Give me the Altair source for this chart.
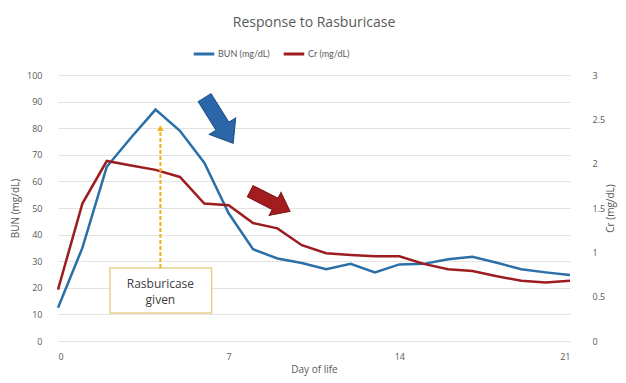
import altair as alt
import pandas as pd

days = list(range(22))
bun = [12.5, 35, 65.5, 76.5, 87, 79, 67, 48, 34.5, 31, 29.3, 27, 29, 25.8, 28.8, 29, 30.7, 31.7, 29.4, 27, 25.8, 24.8]
cr = [0.58, 1.55, 2.03, 1.98, 1.93, 1.85, 1.55, 1.53, 1.33, 1.27, 1.08, 0.99, 0.97, 0.955, 0.955, 0.87, 0.81, 0.79, 0.73, 0.68, 0.66, 0.68]
series_names = ["BUN (mg/dL)", "Cr (mg/dL)"]
series_colors = ["#2a6fa8", "#9c1c1f"]
x_ticks = [0, 7, 14, 21]
bun_ticks = list(range(0, 101, 10))
cr_ticks = [0, 0.5, 1, 1.5, 2, 2.5, 3]

# annotation positions, in (day, BUN) units
note_text = ["Rasburicase\ngiven"]
note_box_day = [2.13, 6.3]
note_box_bun = [10.5, 27.4]
note_text_pos = [4.2, 21.5]
note_arrow_day = 4.2
note_arrow_bun = [27.4, 80]
trend_arrow_day = [6.6, 8.7]
trend_arrow_bun = [82.9, 52.5]
trend_arrow_angle = [148, 117]
trend_arrow_size = [2900, 2000]
trend_arrow_fill = ["#2a66a8", "#a31d1f"]
trend_arrow_stroke = ["#1d4f86", "#7d1416"]

FONT = "Open Sans"
SMALL_FONT = "Lato"
GRAY = "#595959"

df = pd.DataFrame({
    "day": days * 2,
    "series": [series_names[0]] * len(days) + [series_names[1]] * len(days),
    "value": bun + cr,
})

x_enc = alt.X("day:Q", scale=alt.Scale(domain=[0, 21], nice=False, zero=False),
              axis=alt.Axis(values=x_ticks, title="Day of life", grid=False, ticks=False,
                            domain=False, labelPadding=11, titlePadding=3))
color_enc = alt.Color("series:N",
                      scale=alt.Scale(domain=series_names, range=series_colors),
                      legend=alt.Legend(title=None, orient="none", legendX=134, legendY=-33,
                                        direction="horizontal", symbolType="stroke",
                                        symbolSize=420, symbolStrokeWidth=3,
                                        labelFontSize=9, labelColor=GRAY, labelFont=SMALL_FONT,
                                        labelOffset=2, padding=0))

bun_line = alt.Chart(df).transform_filter(
    alt.datum.series == series_names[0]
).mark_line(strokeWidth=2.5).encode(
    x=x_enc,
    y=alt.Y("value:Q", scale=alt.Scale(domain=[0, 100], nice=False),
            axis=alt.Axis(values=bun_ticks, title="BUN (mg/dL)", grid=True,
                          gridColor="#e3e3e3", ticks=False, domain=False,
                          labelPadding=16, titlePadding=6)),
    color=color_enc,
)

cr_line = alt.Chart(df).transform_filter(
    alt.datum.series == series_names[1]
).mark_line(strokeWidth=2.5).encode(
    x=x_enc,
    y=alt.Y("value:Q", scale=alt.Scale(domain=[0, 3], nice=False),
            axis=alt.Axis(values=cr_ticks, format="~g", title="Cr (mg/dL)", orient="right",
                          grid=False, ticks=False, domain=False, labelPadding=22,
                          titlePadding=1, titleAngle=270, titleBaseline="top")),
    color=color_enc,
)

ann_y = alt.Scale(domain=[0, 100], nice=False)

box_df = pd.DataFrame({"x": [note_box_day[0]], "x2": [note_box_day[1]],
                       "y": [note_box_bun[0]], "y2": [note_box_bun[1]]})
box = alt.Chart(box_df).mark_rect(fill="white", stroke="#e6d28c", strokeWidth=1.5).encode(
    x=alt.X("x:Q", scale=alt.Scale(domain=[0, 21], nice=False)), x2="x2:Q",
    y=alt.Y("y:Q", scale=ann_y, axis=None), y2="y2:Q")

text_df = pd.DataFrame({"x": [note_text_pos[0]], "y": [note_text_pos[1]], "t": note_text})
text = alt.Chart(text_df).mark_text(font=FONT, fontSize=12, color="#404040",
                                    lineBreak="\n", lineHeight=16, baseline="middle").encode(
    x=alt.X("x:Q", scale=alt.Scale(domain=[0, 21], nice=False)),
    y=alt.Y("y:Q", scale=ann_y, axis=None), text="t:N")

rule_df = pd.DataFrame({"x": [note_arrow_day], "y": [note_arrow_bun[0]], "y2": [note_arrow_bun[1]]})
rule = alt.Chart(rule_df).mark_rule(color="#f2b01e", strokeWidth=2, strokeDash=[4, 2]).encode(
    x=alt.X("x:Q", scale=alt.Scale(domain=[0, 21], nice=False)),
    y=alt.Y("y:Q", scale=ann_y, axis=None), y2="y2:Q")

head_df = pd.DataFrame({"x": [note_arrow_day], "y": [note_arrow_bun[1]]})
head = alt.Chart(head_df).mark_point(shape="triangle-up", filled=True, size=45,
                                     color="#f2b01e", opacity=1).encode(
    x=alt.X("x:Q", scale=alt.Scale(domain=[0, 21], nice=False)),
    y=alt.Y("y:Q", scale=ann_y, axis=None))

arrow_path = "M -0.28 1 L 0.28 1 L 0.28 -0.25 L 0.58 -0.25 L 0 -1 L -0.58 -0.25 L -0.28 -0.25 Z"
arr_df = pd.DataFrame({"x": trend_arrow_day, "y": trend_arrow_bun, "a": trend_arrow_angle,
                       "s": trend_arrow_size, "f": trend_arrow_fill, "k": trend_arrow_stroke})
arrows = alt.Chart(arr_df).mark_point(shape=arrow_path, filled=True, opacity=1,
                                      strokeWidth=1).encode(
    x=alt.X("x:Q", scale=alt.Scale(domain=[0, 21], nice=False)),
    y=alt.Y("y:Q", scale=ann_y, axis=None),
    angle=alt.Angle("a:Q", scale=None),
    size=alt.Size("s:Q", scale=None),
    fill=alt.Fill("f:N", scale=None),
    stroke=alt.Stroke("k:N", scale=None),
)

chart = alt.layer(bun_line, cr_line, box, text, rule, head, arrows).resolve_scale(
    y="independent"
).properties(
    width=512, height=266,
    background="white",
    autosize=alt.AutoSizeParams(type="none"),
    padding={"left": 50, "top": 67, "right": 48, "bottom": 38},
    title=alt.TitleParams("Response to Rasburicase", fontSize=14, color=GRAY, font=FONT,
                          fontWeight="normal", anchor="middle", offset=12),
).configure_view(stroke=None).configure_axis(
    labelFont=FONT, labelFontSize=9, labelColor=GRAY,
    titleFont=FONT, titleFontSize=10, titleColor=GRAY, titleFontWeight="normal",
).configure_legend(columnPadding=7)

chart.save("out.html", embed_options={"renderer": "svg", "actions": False})
